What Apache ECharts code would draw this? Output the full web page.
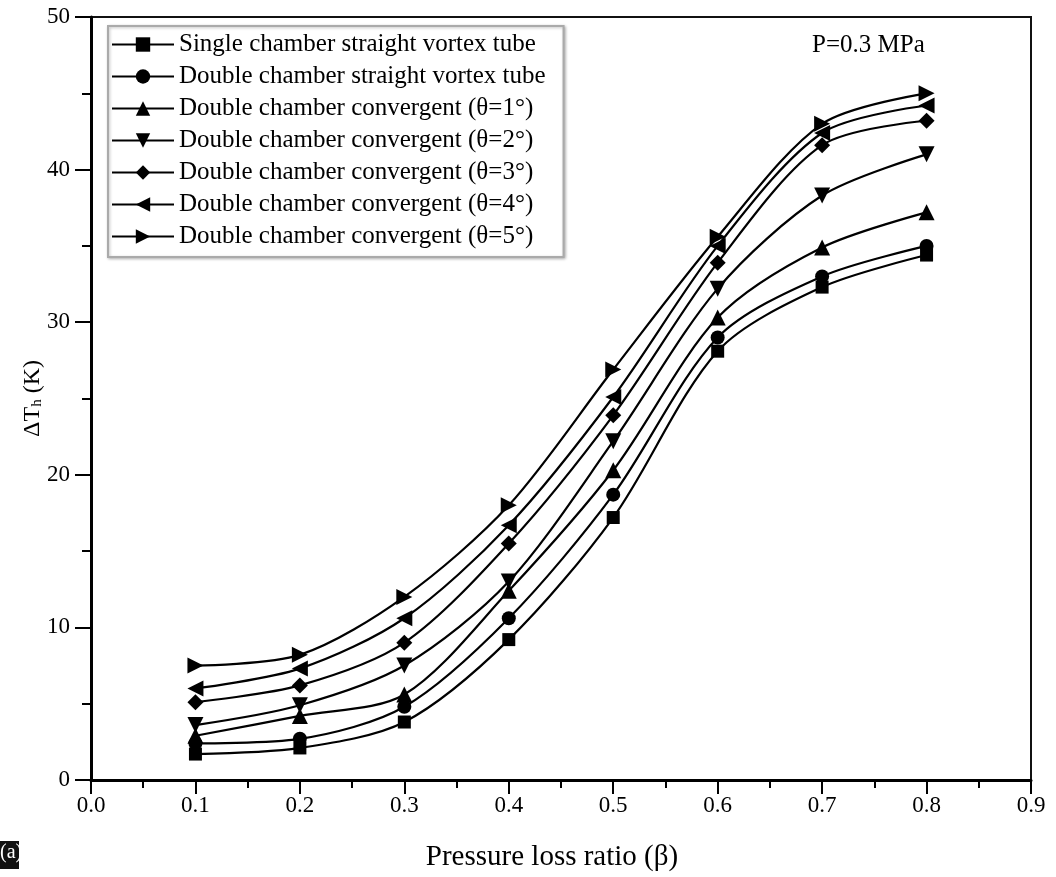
<!DOCTYPE html>
<html>
<head>
<meta charset="utf-8">
<script src="https://cdn.jsdelivr.net/npm/echarts@6/dist/echarts.min.js"></script>
<style>
html,body{margin:0;padding:0;background:#fff;}
#c{width:1056px;height:877px;}
</style>
</head>
<body>
<div id="c"></div>
<script>
// ---- data ----
const xValues = [0.1, 0.2, 0.3, 0.4, 0.5, 0.6, 0.7, 0.8];
const seriesNames = [
  'Single chamber straight vortex tube',
  'Double chamber straight vortex tube',
  'Double chamber convergent (\u03b8=1\u00b0)',
  'Double chamber convergent (\u03b8=2\u00b0)',
  'Double chamber convergent (\u03b8=3\u00b0)',
  'Double chamber convergent (\u03b8=4\u00b0)',
  'Double chamber convergent (\u03b8=5\u00b0)'
];
const singleStraight = [1.7, 2.1, 3.8, 9.2, 17.2, 28.1, 32.3, 34.4];
const doubleStraight = [2.4, 2.7, 4.8, 10.6, 18.7, 29.0, 33.0, 35.0];
const conv1 = [2.9, 4.2, 5.6, 12.4, 20.3, 30.3, 34.9, 37.2];
const conv2 = [3.6, 4.9, 7.5, 13.0, 22.2, 32.2, 38.3, 41.0];
const conv3 = [5.1, 6.2, 9.0, 15.5, 23.9, 33.9, 41.6, 43.2];
const conv4 = [6.0, 7.3, 10.6, 16.7, 25.1, 35.0, 42.4, 44.2];
const conv5 = [7.5, 8.2, 12.0, 18.0, 26.9, 35.6, 43.0, 45.0];
const xTickLabels = ['0.0','0.1','0.2','0.3','0.4','0.5','0.6','0.7','0.8','0.9'];
const yTickLabels = ['0','10','20','30','40','50'];
const pressureNote = 'P=0.3 MPa';
const panelLabel = '(a)';

const allValues = [singleStraight, doubleStraight, conv1, conv2, conv3, conv4, conv5];
const symbols = ['rect', 'circle', 'triangle', 'triangle', 'diamond', 'triangle', 'triangle'];
const rotations = [0, 0, 0, 180, 0, 90, -90];
const sizes = [13, 14, 16, 16, 16, 16, 16];

const serif = '"Liberation Serif","Times New Roman",serif';

const series = allValues.map((vals, i) => ({
  name: seriesNames[i],
  type: 'line',
  smooth: 0.3,
  data: xValues.map((x, j) => [x, vals[j]]),
  symbol: symbols[i],
  symbolRotate: rotations[i],
  symbolSize: sizes[i],
  showAllSymbol: true,
  lineStyle: { color: '#000', width: 2.2 },
  itemStyle: { color: '#000' },
  emphasis: { disabled: true }
}));

const chart = echarts.init(document.getElementById('c'), null, { renderer: 'canvas' });
chart.setOption({
  animation: false,
  backgroundColor: '#fff',
  grid: {
    left: 91, right: 25, top: 17, bottom: 95,
    show: true, borderColor: '#111', borderWidth: 2, backgroundColor: 'transparent'
  },
  legend: {
    orient: 'vertical',
    left: 108, top: 26,
    itemWidth: 62, itemHeight: 18, itemGap: 7,
    padding: [6, 18, 8, 3],
    backgroundColor: '#fff',
    borderColor: '#aaa', borderWidth: 2,
    shadowColor: 'rgba(0,0,0,0.25)', shadowBlur: 3, shadowOffsetX: 1, shadowOffsetY: 1,
    textStyle: { fontFamily: serif, fontSize: 25, color: '#000', lineHeight: 24 },
    symbolRotate: 'inherit',
    data: seriesNames
  },
  xAxis: {
    type: 'value', min: 0, max: 0.9, interval: 0.1,
    axisLine: { show: true, lineStyle: { color: '#000', width: 3 } },
    axisTick: { show: true, inside: false, length: 14, lineStyle: { color: '#000', width: 2 } },
    minorTick: { show: true, splitNumber: 2, length: 8, lineStyle: { color: '#000', width: 2 } },
    splitLine: { show: false },
    axisLabel: {
      margin: 14, color: '#000', fontFamily: serif, fontSize: 23,
      formatter: (v) => { const k = Math.round(v * 10); return xTickLabels[k] !== undefined ? xTickLabels[k] : ''; }
    },
    name: 'Pressure loss ratio (\u03b2)',
    nameLocation: 'middle', nameGap: 63,
    nameTextStyle: { color: '#000', fontFamily: serif, fontSize: 29, padding: [0, 18, 0, 0] }
  },
  yAxis: {
    type: 'value', min: 0, max: 50, interval: 10,
    axisLine: { show: true, lineStyle: { color: '#000', width: 3 } },
    axisTick: { show: true, inside: false, length: 16, lineStyle: { color: '#000', width: 2 } },
    minorTick: { show: true, splitNumber: 2, length: 9, lineStyle: { color: '#000', width: 2 } },
    splitLine: { show: false },
    axisLabel: {
      margin: 21, color: '#000', fontFamily: serif, fontSize: 23,
      formatter: (v) => { const k = Math.round(v / 10); return yTickLabels[k] !== undefined ? yTickLabels[k] : ''; }
    },
    name: '\u0394T{sub|h} (K)',
    nameLocation: 'middle', nameGap: 46, nameRotate: 90,
    nameMoveOverlap: false,
    nameTextStyle: {
      color: '#000', fontFamily: serif, fontSize: 24,
      rich: { sub: { fontFamily: serif, fontSize: 15, color: '#000', verticalAlign: 'bottom', padding: [8, 0, 0, 0] } }
    }
  },
  graphic: [
    {
      type: 'text', left: 812, top: 33, silent: true,
      style: { text: pressureNote, font: '25px ' + serif, fill: '#000' }
    },
    {
      type: 'group', left: 0, top: 841, silent: true,
      children: [
        { type: 'rect', shape: { x: 0, y: 0, width: 19, height: 28 }, style: { fill: '#111' } },
        { type: 'text', x: 0, y: 2, style: { text: panelLabel, font: '20px ' + serif, fill: '#fff' } }
      ]
    }
  ],
  series: series
});
</script>
</body>
</html>
